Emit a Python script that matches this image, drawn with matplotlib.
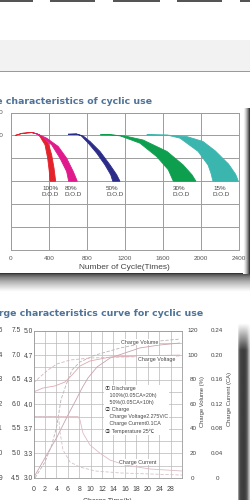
import numpy as np
import matplotlib.pyplot as plt
from matplotlib.patches import Rectangle

plt.rcParams['font.family'] = ['Liberation Sans', 'Noto Sans CJK SC', 'DejaVu Sans']

W, H = 250, 500

# ---- life characteristics of cyclic use (capacity % vs cycles) ----
cycle_ticks = [0, 400, 800, 1200, 1600, 2000, 2400]
capacity_ticks = [0, 20, 40, 60, 80, 100, 120]
capacity_labels = ['', '', '', '', '', '100', '120']
dod_names = ['100%', '80%', '50%', '30%', '15%']
dod_colors = ['#e3222b', '#e0198c', '#2b2c8a', '#0e9f4e', '#3bb6ae']
dod_label_x = [326, 568, 1000, 1705, 2126]

# each band: shared start, outer (right) edge, inner (left) edge  -> (cycles, capacity)
red_start = [(42, 99.9), (116, 101.8), (218, 102.5), (274, 101.4)]
red_outer = [(323, 99.3), (393, 93.2), (428, 83), (453, 71.4), (470, 60)]
red_inner = [(305, 99), (358, 91.8), (386, 80.1), (403, 68.4), (410, 60)]

pink_start = [(230, 102.3), (290, 100.8)]
pink_outer = [(376, 97.6), (498, 90.3), (586, 80.1), (656, 68.4), (698, 60)]
pink_inner = [(323, 99), (428, 91.8), (516, 80.1), (586, 68.4), (607, 60)]

blue_start = [(600, 101), (690, 101.2)]
blue_outer = [(760, 99.5), (832, 94.7), (937, 86), (1042, 74.3), (1113, 65.6), (1147, 60)]
blue_inner = [(740, 99.6), (814, 93.2), (902, 84.5), (989, 74.3), (1050, 65.6), (1071, 60)]

green_start = [(940, 100.5), (1042, 100.5)]
green_outer = [(1200, 99.5), (1390, 96), (1642, 86), (1811, 74.3), (1905, 65.6), (1947, 60)]
green_inner = [(1150, 99.6), (1358, 93.2), (1534, 81.5), (1656, 70), (1709, 60)]

teal_start = [(1429, 100.5), (1650, 100.2)]
teal_outer = [(1850, 99), (2021, 94.7), (2150, 86.5), (2290, 75), (2365, 66), (2393, 60)]
teal_inner = [(1779, 97.6), (1970, 86), (2075, 74), (2105, 67), (2126, 60)]

# ---- charge characteristics (x = position on time axis, y = charge volume %) ----
time_labels = ['0', '2', '4', '6', '8', '10', '12', '14', '16', '18', '20', '24', '28']
volt_col_a = ['9', '10', '11', '12', '13', '14', '15']
volt_col_b = ['4.5', '5.0', '5.5', '6.0', '6.5', '7.0', '7.5']
volt_col_c = ['3.0', '3.3', '3.7', '4.0', '4.3', '4.7', '5.0']
volume_labels = ['0', '20', '40', '60', '80', '100', '120']
current_labels = ['0', '0.04', '0.08', '0.12', '0.16', '0.20', '0.24']

vol100_x = [0, 1.0, 2.06, 3.02, 3.72, 4.25, 4.77, 5.56, 6.7, 8.0, 9.3, 11.05, 12.8]
vol100_y = [0, 16.3, 33.4, 51.3, 63.5, 73.2, 81.4, 90.3, 97.6, 101.7, 105.8, 108.2, 109.8]
vol50_x = [0.13, 1.0, 1.6, 2.06, 2.4, 2.85, 3.37, 4.07, 5.4, 7.6, 9.3, 11.05, 12.8]
vol50_y = [0, 13, 26.8, 43, 63.5, 75.7, 87.9, 94.4, 100, 105.8, 109, 111.5, 113]
volt100_x = [0, 0.83, 1.88, 2.76, 3.37, 4.07, 4.95, 6.7, 9.3, 12.8]
volt100_y = [70, 73.2, 74.9, 78.1, 83.8, 91.1, 95.2, 98.4, 99.3, 100]
volt50_x = [0, 0.57, 1.27, 2.06, 3.2, 4.95, 7.6, 12.8]
volt50_y = [77.3, 82.2, 87.9, 92.8, 96, 97.6, 98.4, 99.3]
cur100_x = [0, 3.9, 4.07, 4.33, 4.95, 5.8, 6.7, 8.0, 10.2, 13]
cur100_y = [50, 50, 47.2, 36.6, 26.8, 20.3, 14.6, 10.6, 7.3, 5.7]
cur50_x = [0, 2.2, 2.32, 2.58, 3.2, 4.07, 5.4, 7.6, 13]
cur50_y = [50, 50, 37.4, 22.8, 13, 8.9, 5.7, 4.1, 2.4]

note_lines = ['\u2460 Discharge',
              '   100%(0.05CA\u00d720h)',
              '   50%(0.05CA\u00d710h)',
              '\u2461 Charge',
              '   Charge Voltage2.275V/C',
              '   Charge Current0.1CA',
              '\u2462 Temperature 25\u2103']


def fbox(x0, y0, x1, y1):
    return [x0 / W, 1 - y1 / H, (x1 - x0) / W, (y1 - y0) / H]


fig = plt.figure(figsize=(W / 100, H / 100), dpi=100)

# page background pieces (pixel coordinates)
bg = fig.add_axes([0, 0, 1, 1], zorder=0)
bg.axis('off')
for x0, x1 in [(0, 33), (50, 95), (113, 160), (177, 222), (240, 250)]:
    bg.add_patch(Rectangle((x0, 0), x1 - x0, 1.5, color='#555555', lw=0))
bg.add_patch(Rectangle((0, 40), W, 31, color='#f2f2f2', lw=0))
bg.add_patch(Rectangle((0, 71), W, 1.2, color='#9a9a9a', lw=0))

# drop shadows of the two pictures
shade = 0.18 + 0.82 * np.linspace(0, 1, 24) ** 0.6
bg.imshow(np.repeat(shade[:, None], 2, 1), cmap='gray', vmin=0, vmax=1,
          extent=(0, W, 292, 273), aspect='auto', interpolation='bilinear')
side = 1 - 0.8 * np.linspace(0, 1, 8) ** 1.5
bg.imshow(np.repeat(side[None, :], 2, 0), cmap='gray', vmin=0, vmax=1,
          extent=(243, 250, 274, 108), aspect='auto', interpolation='bilinear')
side2 = np.array([1.0, 0.55, 0.32, 0.27, 0.25, 0.24, 0.24, 0.25, 0.3, 0.4, 0.6, 0.75])
top_fade = np.linspace(1, 0, 10)
block = np.ones((60, len(side2))) * side2[None, :]
block[:10] = block[:10] * (1 - top_fade[:, None]) + top_fade[:, None]
bg.imshow(block, cmap='gray', vmin=0, vmax=1,
          extent=(237, 250, 500, 322), aspect='auto', interpolation='bilinear')
bg.set_xlim(0, W)
bg.set_ylim(H, 0)

title_kw = dict(ha='right', va='center', fontsize=6.75, fontweight='bold',
                family='DejaVu Sans', color='#4f7398')
bg.text(152, 101, 'Life characteristics of cyclic use', **title_kw)
bg.text(203, 314, 'Charge characteristics curve for cyclic use', **title_kw)

# ---- chart 1 ----
ax1 = fig.add_axes(fbox(11, 112.5, 239, 250), zorder=2)
ax1.set_xlim(0, 2400)
ax1.set_ylim(0, 120)
ax1.set_xticks(cycle_ticks, [str(c) for c in cycle_ticks])
ax1.set_yticks(capacity_ticks, capacity_labels)
ax1.grid(True, color='#9c9c9c', lw=0.7)
ax1.set_axisbelow(True)
for s in ax1.spines.values():
    s.set_color('#9c9c9c')
    s.set_linewidth(0.7)
ax1.tick_params(length=0, labelsize=4.6, labelcolor='#555555')
ax1.tick_params(axis='x', pad=4.6)
ax1.tick_params(axis='y', pad=5.4)
ax1.set_xlabel('Number of Cycle(Times)', fontsize=6, color='#444444')
ax1.xaxis.set_label_coords(0.496, -0.10)

bands = [(red_start, red_outer, red_inner), (pink_start, pink_outer, pink_inner),
         (blue_start, blue_outer, blue_inner), (green_start, green_outer, green_inner),
         (teal_start, teal_outer, teal_inner)]
for (start, outer, inner), col in zip(bands, dod_colors):
    pts = start + outer + inner[::-1] + start[::-1]
    xs, ys = zip(*pts)
    ax1.fill(xs, ys, color=col, lw=0.6)

for name, x in zip(dod_names, dod_label_x):
    ax1.text(x, 51, f'{name}\nD.O.D', ha='left', va='center', fontsize=4.5,
             color='#444444', linespacing=1.4)

# ---- chart 2 ----
ax2 = fig.add_axes(fbox(33.5, 330.5, 182, 478), zorder=2)
ax2.set_xlim(0, 13)
ax2.set_ylim(0, 120)
ax2.set_xticks(range(len(time_labels)), time_labels)
ax2.set_xticks([13], minor=True)
ax2.set_yticks(range(0, 121, 20), volt_col_c)
ax2.set_yticks(range(10, 121, 20), minor=True)
ax2.grid(True, which='both', color='#b8b8b8', lw=0.5)
ax2.set_axisbelow(True)
for s in ax2.spines.values():
    s.set_color('#9a9a9a')
    s.set_linewidth(0.6)
ax2.tick_params(which='both', length=0, labelcolor='#444444')
ax2.tick_params(axis='x', labelsize=5, pad=5.5)
ax2.tick_params(axis='y', labelsize=4.8, pad=0.6)

ytr = ax2.get_yaxis_transform()
for i, y in enumerate(range(0, 121, 20)):
    ax2.text(-0.086, y, volt_col_b[i], transform=ytr, ha='right', va='center',
             fontsize=4.8, color='#444444')
    ax2.text(-0.207, y, volt_col_a[i], transform=ytr, ha='right', va='center',
             fontsize=4.8, color='#444444')
    ax2.text(1.074, y, volume_labels[i], transform=ytr, ha='center', va='center',
             fontsize=4.5, color='#444444')
    ax2.text(1.236, y, current_labels[i], transform=ytr, ha='center', va='center',
             fontsize=4.5, color='#444444')
ax2.text(1.138, 62, 'Charge Volume (%)', transform=ytr, rotation=90, ha='center',
         va='center', fontsize=4.2, color='#444444')
ax2.text(1.32, 64, 'Charge Current (CA)', transform=ytr, rotation=90, ha='center',
         va='center', fontsize=4.2, color='#444444')

ax2.plot(vol100_x, vol100_y, color='#c9a3ab', lw=0.6)
ax2.plot(vol50_x, vol50_y, color='#b9b2b7', lw=0.6, ls=(0, (4, 2)))
ax2.plot(volt100_x, volt100_y, color='#dcaab2', lw=0.6)
ax2.plot(volt50_x, volt50_y, color='#d8b4ba', lw=0.6, ls=(0, (4, 2)))
ax2.plot(cur100_x, cur100_y, color='#dcbcc2', lw=0.6)
ax2.plot(cur50_x, cur50_y, color='#d3c2c6', lw=0.6, ls=(0, (4, 2)))

lab_kw = dict(fontsize=3.9, color='#444444', ha='center', va='center',
              bbox=dict(fc='white', ec='none', pad=0.6))
ax2.text(9.3, 110.6, 'Charge Volume', **lab_kw)
ax2.text(10.8, 96.8, 'Charge Voltage', **lab_kw)
ax2.text(9.15, 13, 'Charge Current', **lab_kw)
ax2.text(6.25, 74.5, '\n'.join(note_lines), ha='left', va='top', fontsize=3.8,
         color='#444444', linespacing=1.5,
         bbox=dict(fc='white', ec='none', pad=1.0))
ax2.set_xlabel('Charge Time(h)', fontsize=5, color='#444444')
ax2.xaxis.set_label_coords(0.5, -0.135)

fig.savefig('out.png', dpi=100)
